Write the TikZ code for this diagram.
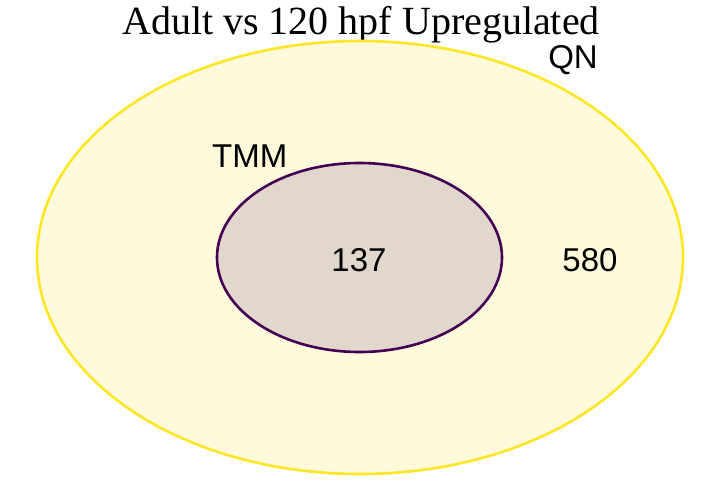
\documentclass[tikz,border=0pt]{standalone}
\usepackage{fontspec}
\setmainfont{Liberation Serif}
\newfontfamily\vennsans{Liberation Sans}
\usetikzlibrary{shapes.geometric}
\definecolor{qnline}{RGB}{253,231,37}
\definecolor{qnfill}{RGB}{255,250,220}
\definecolor{tmmline}{RGB}{68,1,84}
\definecolor{tmmfill}{RGB}{226,215,204}
\newcommand{\vennset}[6]{\node[ellipse, draw=#4, fill=#5, line width=2.6pt, minimum width=#2, minimum height=#3, inner sep=0pt] (#1) at #6 {};}
\tikzset{
  setname/.style={font=\vennsans\fontsize{33}{40}\selectfont, inner sep=0pt},
  count/.style={font=\vennsans\fontsize{33}{40}\selectfont, inner sep=0pt, anchor=base}
}

\begin{document}
\begin{tikzpicture}[x=1pt, y=-1pt]
        \useasboundingbox (0,0) rectangle (720,480);
        % title
        \node[font=\fontsize{40}{48}\selectfont, inner sep=0pt, anchor=base] (title) at (361,34) {Adult vs 120 hpf Upregulated};
        % sets
        \vennset{qn}{646pt}{433pt}{qnline}{qnfill}{(360,257.5)}
        \vennset{tmm}{285pt}{189pt}{tmmline}{tmmfill}{(359.5,257.5)}
        % set names
        \node[setname, anchor=base east] (qnname) at (598,68) {QN};
        \node[setname, anchor=base west] (tmmname) at (212,167) {TMM};
        % counts
        \node[count] (both) at (359,271) {137};
        \node[count] (qnonly) at (590,271) {580};
    \end{tikzpicture}
\end{document}
